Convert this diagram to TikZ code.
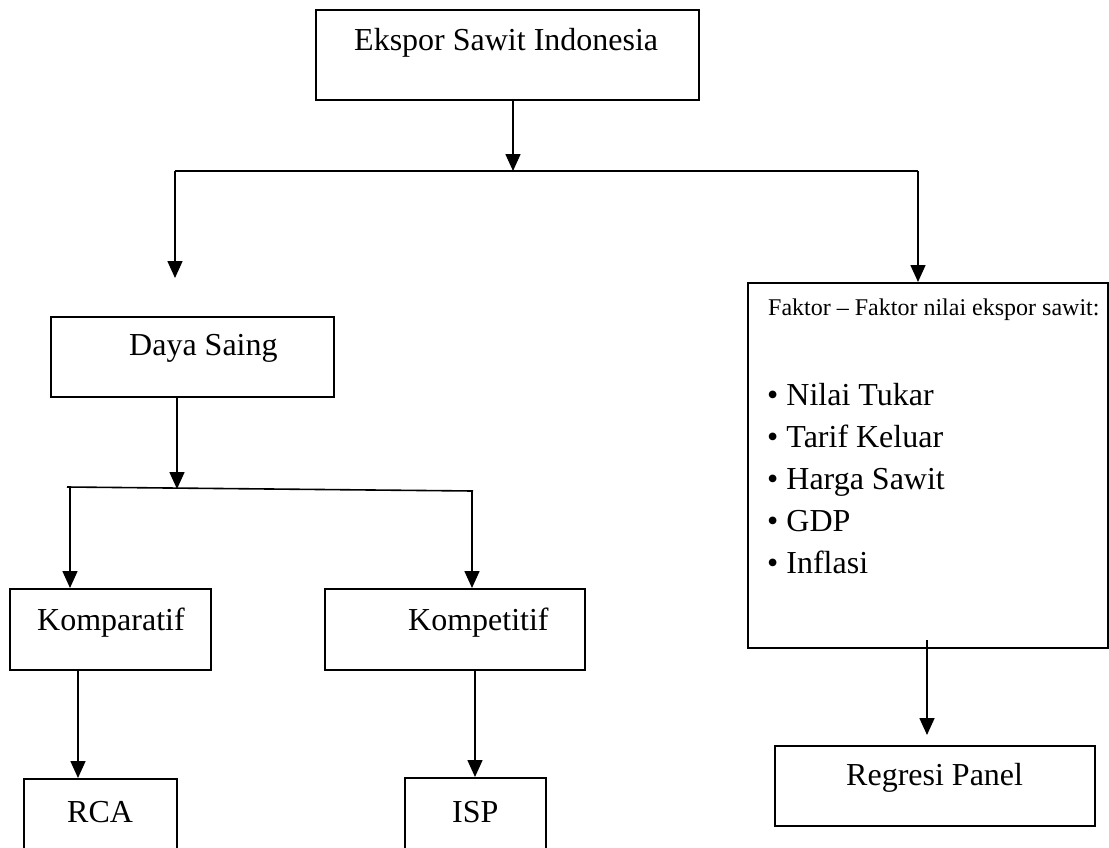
\documentclass[tikz,border=0pt]{standalone}
\usepackage{fontspec}
\setmainfont{Liberation Serif}
\usetikzlibrary{arrows.meta}
\begin{document}
\begin{tikzpicture}[x=1pt,y=-1pt,
  box/.style={draw, line width=1.6pt, inner sep=0pt, anchor=north west},
  lbl/.style={anchor=base west, inner sep=0pt, font=\fontsize{32}{38}\selectfont},
  small/.style={anchor=base west, inner sep=0pt, font=\fontsize{24}{29}\selectfont},
  conn/.style={line width=1.6pt},
  arr/.style={line width=1.6pt, -{Triangle[width=15pt,length=17pt]}}]
\clip (0,0) rectangle (1109,847);
\fill[white] (0,0) rectangle (1109,847);
% boxes
\node[box, minimum width=383pt, minimum height=90pt] (top) at (315,9) {};
\node[lbl] (toptxt) at (354,50) {Ekspor Sawit Indonesia};
\node[box, minimum width=283pt, minimum height=80pt] (daya) at (50,316) {};
\node[lbl] (dayatxt) at (129,355) {Daya Saing};
\node[box, minimum width=201pt, minimum height=81pt] (komp) at (9,588) {};
\node[lbl] (komptxt) at (37,630) {Komparatif};
\node[box, minimum width=260pt, minimum height=81pt] (kompe) at (324,588) {};
\node[lbl] (kompetxt) at (408,630) {Kompetitif};
\node[box, minimum width=153pt, minimum height=120pt] (rca) at (23,778) {};
\node[lbl] (rcatxt) at (67,822) {RCA};
\node[box, minimum width=141pt, minimum height=120pt] (isp) at (404,777) {};
\node[lbl] (isptxt) at (452,822) {ISP};
\node[box, minimum width=360pt, minimum height=365pt] (fak) at (747,282) {};
\node[small] (faktxt) at (768,315) {Faktor – Faktor nilai ekspor sawit:};
\node[lbl] (f1) at (767,405) {• Nilai Tukar};
\node[lbl] (f2) at (767,447) {• Tarif Keluar};
\node[lbl] (f3) at (767,489) {• Harga Sawit};
\node[lbl] (f4) at (767,531) {• GDP};
\node[lbl] (f5) at (767,573) {• Inflasi};
\node[box, minimum width=320pt, minimum height=80pt] (reg) at (774,745) {};
\node[lbl] (regtxt) at (846,785) {Regresi Panel};
% junction coordinates
\coordinate (j1) at (513,171);
\coordinate (jl) at (175,171);
\coordinate (jr) at (918,171);
\coordinate (jlt) at (175,278);
\coordinate (j2) at (177,489);
\coordinate (j2l) at (67,487);
\coordinate (j2r) at (473,491);
\coordinate (fakout) at (927,640);
\coordinate (regin) at (927,735);
% connectors
\draw[arr] (top.south -| j1) -- (j1);
\draw[conn] (jl) -- (jr);
\draw[arr] (jl) -- (jlt);
\draw[arr] (jr) -- (jr |- fak.north);
\draw[arr] (daya.south -| j2) -- (j2);
\draw[conn] (j2l) -- (j2r);
\draw[arr] (70,487) -- (70,588);
\draw[arr] (472,491) -- (472,588);
\draw[arr] (komp.south -| 78,0) -- (78,778);
\draw[arr] (kompe.south -| 475,0) -- (475,777);
\draw[arr] (fakout) -- (regin);
\end{tikzpicture}
\end{document}
